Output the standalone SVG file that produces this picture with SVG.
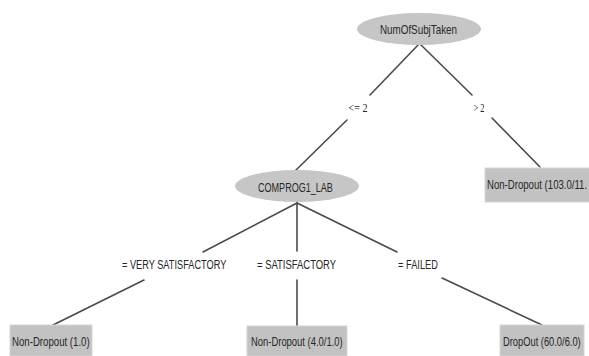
<svg xmlns="http://www.w3.org/2000/svg" width="589" height="356" viewBox="0 0 589 356">
<style>
.bg{fill:#ffffff}
.ell{fill:#c6c6c6;stroke:none}
.leaf{fill:#c2c2c2;stroke:#d6d6d6;stroke-width:1}
.edge{stroke:#4a4a4a;stroke-width:1.6;fill:none;stroke-linecap:round}
.t{font-family:"Liberation Sans",Arial,sans-serif;font-size:13px;fill:#262626}
.s{font-family:"Liberation Serif","Times New Roman",serif;font-size:13px;fill:#262626}
</style>
<rect class="bg" x="0" y="0" width="589" height="356"/>
<g id="connectors">
<line class="edge" x1="419" y1="44" x2="370" y2="95"/>
<line class="edge" x1="347" y1="120" x2="295" y2="171"/>
<line class="edge" x1="420" y1="44" x2="472" y2="95"/>
<line class="edge" x1="492" y1="118" x2="540" y2="167"/>
<line class="edge" x1="297" y1="203" x2="203" y2="252"/>
<line class="edge" x1="144" y1="280" x2="53" y2="325"/>
<line class="edge" x1="297" y1="203" x2="297" y2="251"/>
<line class="edge" x1="297" y1="280" x2="297" y2="326"/>
<line class="edge" x1="297" y1="203" x2="397" y2="252"/>
<line class="edge" x1="442" y1="278" x2="542" y2="325"/>
<text class="s" x="358" y="112" text-anchor="middle" textLength="19" lengthAdjust="spacingAndGlyphs">&lt;= 2</text>
<text class="s" x="479" y="112" text-anchor="middle" textLength="11" lengthAdjust="spacingAndGlyphs">&gt; 2</text>
<text class="t" transform="translate(122,269) scale(0.7,1)" textLength="149" lengthAdjust="spacingAndGlyphs">= VERY SATISFACTORY</text>
<text class="t" transform="translate(257,269) scale(0.7,1)" textLength="113" lengthAdjust="spacingAndGlyphs">= SATISFACTORY</text>
<text class="t" transform="translate(398,269) scale(0.7,1)" textLength="57" lengthAdjust="spacingAndGlyphs">= FAILED</text>
</g>
<g id="root">
<ellipse class="ell" cx="419" cy="29" rx="62" ry="16"/>
<text class="t" transform="translate(380,34) scale(0.7,1)" textLength="110" lengthAdjust="spacingAndGlyphs">NumOfSubjTaken</text>
</g>
<g id="comprog">
<ellipse class="ell" cx="297" cy="186" rx="62" ry="16"/>
<text class="t" transform="translate(258,192) scale(0.7,1)" textLength="107" lengthAdjust="spacingAndGlyphs">COMPROG1_LAB</text>
</g>
<g id="leaf-right">
<rect class="leaf" x="485" y="168" width="110" height="34"/>
<text class="t" transform="translate(487,189) scale(0.7,1)" textLength="143" lengthAdjust="spacingAndGlyphs">Non-Dropout (103.0/11.</text>
</g>
<g id="leaf-very">
<rect class="leaf" x="10" y="325" width="82" height="31"/>
<text class="t" transform="translate(12,346) scale(0.7,1)" textLength="111" lengthAdjust="spacingAndGlyphs">Non-Dropout (1.0)</text>
</g>
<g id="leaf-sat">
<rect class="leaf" x="247" y="326" width="100" height="30"/>
<text class="t" transform="translate(251,346) scale(0.7,1)" textLength="131" lengthAdjust="spacingAndGlyphs">Non-Dropout (4.0/1.0)</text>
</g>
<g id="leaf-failed">
<rect class="leaf" x="500" y="325" width="84" height="31"/>
<text class="t" transform="translate(503,346) scale(0.7,1)" textLength="111" lengthAdjust="spacingAndGlyphs">DropOut (60.0/6.0)</text>
</g>
</svg>
